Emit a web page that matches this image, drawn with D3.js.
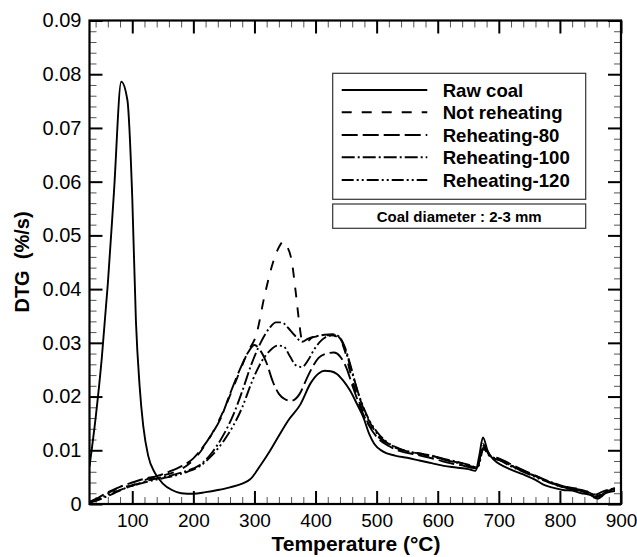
<!DOCTYPE html>
<html><head><meta charset="utf-8">
<script src="https://cdn.jsdelivr.net/npm/d3@7"></script>
<style>
body{margin:0;background:#fff;}
text{font-family:"Liberation Sans",Arial,Helvetica,sans-serif;fill:#000;}
</style>
</head><body>
<svg id="chart" width="637" height="557"></svg>
<script>
// ---------------- DATA ----------------
const seriesNames = ["Raw coal","Not reheating","Reheating-80","Reheating-100","Reheating-120"];

const rawCoal = [[30,0.007],[40,0.016],[50,0.027],[60,0.041],[70,0.058],[82,0.0786],[92,0.0752],[100,0.057],[106,0.034],[112,0.022],[118,0.0145],[126,0.009],[137,0.0058],[150,0.0038],[165,0.0026],[180,0.002],[200,0.0019],[220,0.0022],[240,0.0026],[260,0.0031],[280,0.0038],[293,0.0046],[310,0.0072],[325,0.0098],[340,0.0127],[355,0.0155],[375,0.0185],[392,0.0225],[405,0.0243],[415,0.0248],[425,0.0247],[435,0.0242],[445,0.0230],[456,0.0212],[467,0.0188],[478,0.0162],[488,0.0130],[496,0.0112],[510,0.0098],[530,0.0090],[550,0.0086],[570,0.0081],[590,0.0076],[610,0.0071],[630,0.0068],[650,0.0065],[662,0.0062],[668,0.0090],[674,0.0124],[682,0.0098],[692,0.0082],[705,0.0072],[720,0.0064],[740,0.0055],[760,0.0045],[775,0.0035],[790,0.0030],[805,0.0026],[820,0.0025],[835,0.0020],[850,0.0017],[862,0.0010],[875,0.0020],[890,0.0024]];

const notReheating = [[30,0.0003],[45,0.001],[60,0.002],[80,0.003],[100,0.0035],[115,0.0042],[130,0.0048],[150,0.0053],[170,0.006],[190,0.0072],[210,0.0095],[230,0.013],[250,0.0175],[270,0.023],[290,0.0285],[303,0.0315],[317,0.039],[331,0.0452],[340,0.0478],[347,0.0488],[353,0.048],[361,0.0452],[368,0.039],[373,0.034],[378,0.0305],[385,0.0302],[395,0.031],[410,0.0313],[425,0.0314],[438,0.031],[448,0.0285],[458,0.024],[470,0.0195],[482,0.016],[495,0.0135],[510,0.0118],[530,0.0105],[550,0.0098],[570,0.0094],[590,0.009],[610,0.0083],[630,0.0078],[650,0.0073],[664,0.0068],[675,0.0105],[685,0.0088],[700,0.0082],[720,0.0072],[740,0.006],[760,0.0052],[780,0.0042],[800,0.0035],[820,0.0030],[840,0.0026],[855,0.0018],[870,0.0022],[890,0.0028]];

const reheating80 = [[30,0.0004],[45,0.0012],[60,0.0022],[80,0.0032],[100,0.004],[120,0.0047],[140,0.0052],[160,0.006],[180,0.007],[200,0.0085],[215,0.0105],[230,0.013],[245,0.016],[260,0.0205],[276,0.025],[290,0.0283],[300,0.0296],[310,0.0285],[320,0.0262],[330,0.0228],[340,0.0205],[350,0.0195],[360,0.0192],[374,0.0205],[385,0.0232],[395,0.0255],[405,0.0272],[418,0.0280],[430,0.0282],[440,0.0275],[450,0.0255],[462,0.0215],[475,0.0175],[488,0.0145],[500,0.0125],[520,0.0108],[540,0.0098],[560,0.0093],[580,0.0088],[600,0.0082],[620,0.0076],[640,0.0072],[660,0.0067],[667,0.0075],[674,0.0112],[685,0.0090],[700,0.0085],[720,0.0074],[740,0.0063],[760,0.0053],[780,0.0042],[800,0.0033],[820,0.0028],[840,0.0022],[858,0.0012],[875,0.0022],[890,0.003]];

const reheating100 = [[30,0.0002],[50,0.001],[70,0.002],[90,0.003],[110,0.0038],[130,0.0045],[150,0.005],[170,0.0055],[190,0.0062],[210,0.0072],[230,0.0095],[250,0.013],[265,0.0165],[280,0.021],[295,0.026],[310,0.03],[325,0.0328],[335,0.0338],[345,0.0338],[355,0.0328],[365,0.0315],[378,0.0302],[388,0.0308],[400,0.0312],[415,0.0315],[428,0.0316],[438,0.0312],[448,0.0292],[458,0.0255],[470,0.0205],[482,0.0168],[495,0.014],[510,0.012],[530,0.0106],[550,0.0098],[570,0.0094],[590,0.009],[610,0.0084],[630,0.0079],[650,0.0073],[664,0.0068],[675,0.0108],[686,0.009],[700,0.0083],[720,0.0072],[740,0.0062],[760,0.0052],[780,0.0043],[800,0.0035],[820,0.0029],[840,0.0025],[856,0.0017],[870,0.0023],[890,0.0030]];

const reheating120 = [[30,0.0003],[50,0.0012],[70,0.0022],[90,0.003],[110,0.0037],[130,0.0043],[150,0.0048],[170,0.0053],[190,0.006],[210,0.007],[230,0.009],[250,0.0118],[265,0.0145],[280,0.018],[295,0.0225],[310,0.0262],[325,0.0285],[338,0.0295],[348,0.0293],[358,0.0275],[368,0.0258],[378,0.0255],[388,0.0268],[398,0.0288],[410,0.0305],[422,0.0313],[432,0.0314],[442,0.0305],[452,0.0275],[463,0.0232],[475,0.019],[487,0.0158],[500,0.0135],[515,0.0117],[535,0.0104],[555,0.0097],[575,0.0092],[595,0.0087],[615,0.0081],[635,0.0076],[655,0.007],[665,0.0066],[675,0.0102],[686,0.0088],[700,0.0082],[720,0.0070],[740,0.006],[760,0.0050],[780,0.0041],[800,0.0033],[820,0.0027],[840,0.0023],[857,0.0014],[872,0.002],[890,0.0026]];

const xTickValues = [100,200,300,400,500,600,700,800,900];
const yTickValues = [0,0.01,0.02,0.03,0.04,0.05,0.06,0.07,0.08,0.09];
const yTickLabels = ["0","0.01","0.02","0.03","0.04","0.05","0.06","0.07","0.08","0.09"];
const xTitle = "Temperature (\u00B0C)";
const yTitle = "DTG \u00A0(%/s)";
const noteText = "Coal diameter : 2-3 mm";

// ---------------- LAYOUT ----------------
const svg = d3.select("#chart");
const L = 89.5, R = 621, T = 20.5, B = 504;
const x = d3.scaleLinear().domain([30, 900]).range([L, R]);
const y = d3.scaleLinear().domain([0, 0.09]).range([B, T]);

const allSeries = [rawCoal, notReheating, reheating80, reheating100, reheating120];
const dashes = [null, "10,10", "16,5", "13,3,2,3", "12,3,2,3,2,3"];

const xMinor = d3.range(40, 900, 20).filter(v => v % 100 !== 0);
const yMinor = d3.range(0.002, 0.09, 0.002).filter(v => Math.abs(v*100 - Math.round(v*100)) > 1e-6);

function styleMinor(g){ g.select(".domain").remove(); g.selectAll("line").attr("stroke","#555").attr("stroke-width",1); g.selectAll("text").remove(); }
function styleMajor(g){ g.select(".domain").remove(); g.selectAll("line").attr("stroke","#000").attr("stroke-width",2); }

svg.append("g").attr("transform",`translate(0,${B})`)
  .call(d3.axisBottom(x).tickValues(xMinor).tickSize(-7)).call(styleMinor);
const gxb = svg.append("g").attr("transform",`translate(0,${B})`)
  .call(d3.axisBottom(x).tickValues(xTickValues).tickSize(-13).tickPadding(10).tickFormat(d3.format("d")))
  .call(styleMajor);
gxb.selectAll("text").attr("font-size",19).attr("font-family","Liberation Sans, Arial, sans-serif");
svg.append("g").attr("transform",`translate(0,${T})`)
  .call(d3.axisTop(x).tickValues(xMinor).tickSize(-7)).call(styleMinor);
svg.append("g").attr("transform",`translate(0,${T})`)
  .call(d3.axisTop(x).tickValues(xTickValues).tickSize(-13)).call(styleMajor)
  .selectAll("text").remove();
svg.append("g").attr("transform",`translate(${L},0)`)
  .call(d3.axisLeft(y).tickValues(yMinor).tickSize(-7)).call(styleMinor);
const gyl = svg.append("g").attr("transform",`translate(${L},0)`)
  .call(d3.axisLeft(y).tickValues(yTickValues).tickSize(-13).tickPadding(8).tickFormat((d,i)=>yTickLabels[i]))
  .call(styleMajor);
gyl.selectAll("text").attr("font-size",20).attr("font-family","Liberation Sans, Arial, sans-serif");
svg.append("g").attr("transform",`translate(${R},0)`)
  .call(d3.axisRight(y).tickValues(yMinor).tickSize(-7)).call(styleMinor);
svg.append("g").attr("transform",`translate(${R},0)`)
  .call(d3.axisRight(y).tickValues(yTickValues).tickSize(-13)).call(styleMajor)
  .selectAll("text").remove();

svg.append("rect").attr("x",L).attr("y",T).attr("width",R-L).attr("height",B-T)
  .attr("fill","none").attr("stroke","#000").attr("stroke-width",2.2);

const line = d3.line().x(d=>x(d[0])).y(d=>y(d[1])).curve(d3.curveMonotoneX);
svg.append("defs").append("clipPath").attr("id","clip").append("rect")
  .attr("x",L).attr("y",T).attr("width",R-L).attr("height",B-T);
const gl = svg.append("g").attr("clip-path","url(#clip)");
allSeries.forEach((s,i)=>{
  gl.append("path").datum(s).attr("d",line).attr("fill","none")
    .attr("stroke","#000").attr("stroke-width",1.9)
    .attr("stroke-dasharray",dashes[i]);
});

const lg = svg.append("g");
lg.append("rect").attr("x",332.7).attr("y",73.3).attr("width",253).attr("height",126)
  .attr("fill","#fff").attr("stroke","#333").attr("stroke-width",1.2);
const rowY = [90,112.3,135,157.3,180];
seriesNames.forEach((n,i)=>{
  lg.append("line").attr("x1",341.7).attr("x2",427.3).attr("y1",rowY[i]).attr("y2",rowY[i])
    .attr("stroke","#000").attr("stroke-width",1.9).attr("stroke-dasharray",dashes[i]);
  lg.append("text").attr("x",442.7).attr("y",rowY[i]).attr("dy","0.36em")
    .attr("font-size",18.6).attr("font-weight","bold").text(n);
});
lg.append("rect").attr("x",332.7).attr("y",204).attr("width",253).attr("height",24.3)
  .attr("fill","#fff").attr("stroke","#333").attr("stroke-width",1.2);
lg.append("text").attr("x",459.2).attr("y",216.2).attr("dy","0.36em").attr("text-anchor","middle")
  .attr("font-size",15).attr("font-weight","bold").text(noteText);

svg.append("text").attr("x",356).attr("y",551).attr("text-anchor","middle")
  .attr("font-size",21).attr("font-weight","bold").text(xTitle);
svg.append("text").attr("transform","translate(29,262) rotate(-90)").attr("text-anchor","middle")
  .attr("font-size",20).attr("font-weight","bold").text(yTitle);
</script>
</body></html>
